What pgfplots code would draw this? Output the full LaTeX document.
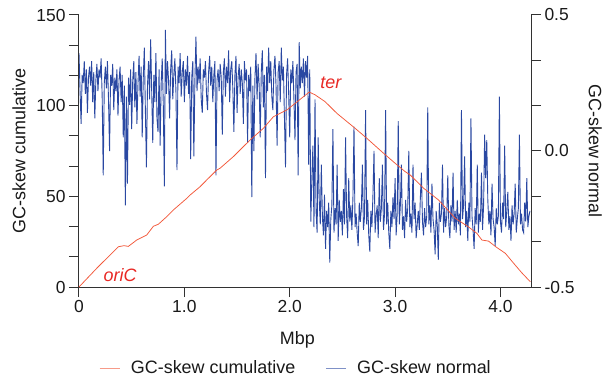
\documentclass[border=0pt]{standalone}
\usepackage{fontspec}
\setmainfont{Liberation Sans}
\usepackage{pgfplots}
\pgfplotsset{compat=1.18}
\definecolor{skewblue}{RGB}{42,72,162}
\definecolor{skewred}{RGB}{242,88,58}
\definecolor{labred}{RGB}{232,40,36}
\definecolor{axgray}{RGB}{50,50,50}
\definecolor{txtgray}{RGB}{25,25,25}
\begin{document}
\begin{tikzpicture}
\pgfplotsset{
  every axis/.append style={
    scale only axis, width=452bp, height=272bp,
    at={(0,0)}, anchor=south west,
    xmin=0, xmax=4.29,
    font=\fontsize{18}{21}\selectfont,
    every tick label/.append style={font=\fontsize{17.5}{20}\selectfont, txtgray},
    /pgf/number format/assume math mode=true,
    axis line style={axgray, line width=1bp},
    every tick/.append style={axgray, line width=1bp},
    tick align=outside,
    major tick length=10bp, minor tick length=10bp,
  }
}
% ---------- right axis: GC-skew normal ----------
\begin{axis}[
  axis x line=none,
  axis y line*=right,
  ymin=-0.5, ymax=0.5,
  ytick={-0.5,0,0.5},
  minor ytick={-0.3333,-0.1667,0.1667,0.3333},
  yticklabel style={/pgf/number format/fixed, /pgf/number format/fixed zerofill, /pgf/number format/precision=1},
  ylabel={GC-skew normal},
  ylabel style={at={(axis description cs:1.142,0.5)}, anchor=center, rotate=180, txtgray},
]
\addplot[skewblue, line width=0.9bp] coordinates {
(0.00,0.36) (0.01,0.22) (0.02,0.10) (0.03,0.28) (0.04,0.25) (0.05,0.33) (0.06,0.21) (0.07,0.30) (0.08,0.14) (0.09,0.27)
(0.10,0.31) (0.11,0.24) (0.12,0.33) (0.13,0.18) (0.14,0.29) (0.15,0.12) (0.16,0.26) (0.17,0.32) (0.18,0.22) (0.19,0.30)
(0.20,0.27) (0.21,0.34) (0.22,0.20) (0.23,-0.09) (0.24,0.25) (0.25,0.31) (0.26,0.23) (0.27,0.33) (0.28,0.19) (0.29,0.00)
(0.30,0.28) (0.31,0.24) (0.32,0.32) (0.33,0.15) (0.34,0.27) (0.35,0.22) (0.36,0.30) (0.37,0.13) (0.38,0.26) (0.39,0.31)
(0.40,0.18) (0.41,0.28) (0.42,0.05) (0.43,0.24) (0.44,-0.20) (0.45,0.20) (0.46,-0.12) (0.47,0.27) (0.48,0.17) (0.49,0.30)
(0.50,0.08) (0.51,0.26) (0.52,0.33) (0.53,0.16) (0.54,0.29) (0.55,0.10) (0.56,0.25) (0.57,0.35) (0.58,0.20) (0.59,0.31)
(0.60,0.05) (0.61,0.27) (0.62,0.38) (0.63,0.15) (0.64,-0.06) (0.65,0.24) (0.66,0.33) (0.67,0.19) (0.68,0.41) (0.69,0.22)
(0.70,0.03) (0.71,0.28) (0.72,0.18) (0.73,0.36) (0.74,0.12) (0.75,0.07) (0.76,0.30) (0.77,0.02) (0.78,0.25) (0.79,0.34)
(0.80,0.17) (0.81,-0.13) (0.82,0.445) (0.83,0.21) (0.84,0.33) (0.85,0.26) (0.86,0.12) (0.87,0.30) (0.88,0.37) (0.89,0.19)
(0.90,0.28) (0.91,0.34) (0.92,0.22) (0.93,-0.07) (0.94,0.31) (0.95,0.25) (0.96,0.36) (0.97,0.20) (0.98,0.29) (0.99,0.33)
(1.00,0.18) (1.01,0.30) (1.02,0.24) (1.03,0.35) (1.04,0.21) (1.05,0.29) (1.06,-0.03) (1.07,0.27) (1.08,0.33) (1.09,-0.02)
(1.10,0.26) (1.11,0.42) (1.12,0.22) (1.13,0.31) (1.14,0.25) (1.15,0.34) (1.16,0.19) (1.17,0.14) (1.18,0.30) (1.19,0.27)
(1.20,0.33) (1.21,0.21) (1.22,0.15) (1.23,0.29) (1.24,0.35) (1.25,0.24) (1.26,0.31) (1.27,0.18) (1.28,0.28) (1.29,0.33)
(1.30,-0.09) (1.31,0.26) (1.32,0.30) (1.33,0.22) (1.34,0.32) (1.35,0.27) (1.36,0.06) (1.37,0.29) (1.38,0.34) (1.39,0.20)
(1.40,0.31) (1.41,0.25) (1.42,0.37) (1.43,0.18) (1.44,0.30) (1.45,0.33) (1.46,0.23) (1.47,0.07) (1.48,0.28) (1.49,0.35)
(1.50,0.14) (1.51,0.27) (1.52,0.32) (1.53,0.21) (1.54,0.30) (1.55,0.25) (1.56,0.10) (1.57,0.33) (1.58,0.26) (1.59,0.30)
(1.60,0.03) (1.61,0.28) (1.62,0.22) (1.63,0.31) (1.64,-0.17) (1.65,0.24) (1.66,0.00) (1.67,0.27) (1.68,0.36) (1.69,0.19)
(1.70,0.32) (1.71,0.24) (1.72,0.05) (1.73,0.29) (1.74,0.37) (1.75,0.16) (1.76,0.28) (1.77,-0.10) (1.78,0.31) (1.79,0.22)
(1.80,0.38) (1.81,0.25) (1.82,0.33) (1.83,0.20) (1.84,0.15) (1.85,0.30) (1.86,0.35) (1.87,0.24) (1.88,0.02) (1.89,0.29)
(1.90,0.33) (1.91,0.18) (1.92,0.38) (1.93,0.26) (1.94,0.31) (1.95,0.12) (1.96,-0.06) (1.97,0.28) (1.98,0.34) (1.99,0.21)
(2.00,0.05) (2.01,0.30) (2.02,0.25) (2.03,0.33) (2.04,0.19) (2.05,0.04) (2.06,0.29) (2.07,0.32) (2.08,-0.09) (2.09,0.40)
(2.10,0.23) (2.11,0.31) (2.12,0.25) (2.13,0.34) (2.14,0.20) (2.15,0.33) (2.16,0.27) (2.17,0.35) (2.18,-0.05) (2.19,0.30)
(2.20,-0.26) (2.21,-0.10) (2.22,0.02) (2.23,-0.28) (2.24,0.19) (2.25,-0.22) (2.26,-0.30) (2.27,0.05) (2.28,-0.18) (2.29,-0.27)
(2.30,-0.05) (2.31,-0.24) (2.32,-0.31) (2.33,-0.16) (2.34,-0.36) (2.35,-0.22) (2.36,-0.28) (2.37,-0.19) (2.38,-0.41) (2.39,-0.25)
(2.40,-0.20) (2.41,0.08) (2.42,-0.30) (2.43,-0.21) (2.44,-0.27) (2.45,-0.05) (2.46,-0.33) (2.47,-0.18) (2.48,-0.26) (2.49,-0.22)
(2.50,-0.31) (2.51,-0.14) (2.52,-0.27) (2.53,0.05) (2.54,-0.24) (2.55,-0.32) (2.56,-0.10) (2.57,-0.26) (2.58,-0.20) (2.59,-0.29)
(2.60,-0.17) (2.61,0.09) (2.62,-0.28) (2.63,-0.23) (2.64,-0.30) (2.65,-0.35) (2.66,-0.19) (2.67,-0.26) (2.68,-0.21) (2.69,-0.05)
(2.70,-0.29) (2.71,-0.24) (2.72,0.15) (2.73,-0.27) (2.74,-0.18) (2.75,-0.31) (2.76,-0.37) (2.77,-0.22) (2.78,-0.28) (2.79,-0.16)
(2.80,0.00) (2.81,-0.30) (2.82,-0.24) (2.83,-0.20) (2.84,-0.32) (2.85,-0.10) (2.86,-0.26) (2.87,-0.21) (2.88,-0.05) (2.89,-0.29)
(2.90,-0.23) (2.91,0.15) (2.92,-0.27) (2.93,-0.19) (2.94,-0.30) (2.95,-0.36) (2.96,-0.22) (2.97,-0.28) (2.98,-0.17) (2.99,-0.25)
(3.00,-0.10) (3.01,-0.31) (3.02,-0.23) (3.03,0.11) (3.04,-0.27) (3.05,-0.20) (3.06,-0.05) (3.07,-0.29) (3.08,-0.24) (3.09,-0.32)
(3.10,-0.18) (3.11,-0.26) (3.12,-0.21) (3.13,0.00) (3.14,-0.28) (3.15,-0.23) (3.16,-0.30) (3.17,-0.05) (3.18,-0.25) (3.19,-0.19)
(3.20,-0.32) (3.21,-0.27) (3.22,-0.22) (3.23,-0.29) (3.24,-0.17) (3.25,-0.08) (3.26,-0.26) (3.27,-0.31) (3.28,-0.21) (3.29,-0.28)
(3.30,-0.24) (3.31,0.16) (3.32,-0.27) (3.33,-0.20) (3.34,-0.30) (3.35,-0.12) (3.36,-0.25) (3.37,-0.29) (3.38,-0.38) (3.39,-0.22)
(3.40,-0.27) (3.41,-0.40) (3.42,-0.19) (3.43,-0.26) (3.44,-0.23) (3.45,-0.05) (3.46,-0.30) (3.47,-0.21) (3.48,-0.28) (3.49,-0.24)
(3.50,-0.09) (3.51,-0.27) (3.52,-0.32) (3.53,-0.20) (3.54,-0.26) (3.55,-0.08) (3.56,-0.29) (3.57,-0.22) (3.58,-0.30) (3.59,-0.18)
(3.60,-0.27) (3.61,-0.23) (3.62,-0.31) (3.63,0.15) (3.64,-0.25) (3.65,-0.20) (3.66,-0.02) (3.67,-0.28) (3.68,-0.22) (3.69,-0.33)
(3.70,-0.19) (3.71,-0.26) (3.72,0.12) (3.73,-0.24) (3.74,-0.29) (3.75,-0.36) (3.76,-0.21) (3.77,-0.27) (3.78,-0.05) (3.79,-0.30)
(3.80,-0.23) (3.81,-0.26) (3.82,-0.08) (3.83,-0.29) (3.84,-0.20) (3.85,0.06) (3.86,-0.10) (3.87,0.04) (3.88,-0.18) (3.89,-0.27)
(3.90,-0.22) (3.91,-0.31) (3.92,-0.12) (3.93,-0.25) (3.94,-0.28) (3.95,-0.35) (3.96,-0.21) (3.97,-0.27) (3.98,-0.24) (3.99,0.20)
(4.00,-0.26) (4.01,-0.30) (4.02,-0.19) (4.03,-0.25) (4.04,0.02) (4.05,-0.28) (4.06,-0.22) (4.07,-0.15) (4.08,-0.29) (4.09,-0.24)
(4.10,-0.33) (4.11,-0.20) (4.12,-0.27) (4.13,-0.23) (4.14,-0.12) (4.15,-0.30) (4.16,-0.25) (4.17,-0.21) (4.18,0.06) (4.19,-0.27)
(4.20,-0.23) (4.21,-0.29) (4.22,-0.30) (4.23,-0.19) (4.24,-0.26) (4.25,-0.10) (4.26,-0.28) (4.27,-0.24) (4.28,-0.22)
};
\end{axis}
% ---------- left axis: GC-skew cumulative ----------
\begin{axis}[
  axis x line*=bottom,
  axis y line*=left,
  ymin=0, ymax=150,
  ytick={0,50,100,150},
  minor ytick={16.667,33.333,66.667,83.333,116.667,133.333},
  xtick={0,1,2,3,4},
  xticklabels={0,1.0,2.0,3.0,4.0},
  xlabel={Mbp},
  xlabel style={at={(axis description cs:0.483,-0.213)}, anchor=base, txtgray},
  ylabel={GC-skew cumulative},
  ylabel style={at={(axis description cs:-0.133,0.5)}, anchor=center, txtgray},
  legend columns=2,
  legend style={at={(axis description cs:0.48,-0.298)}, anchor=center, draw=none, fill=none,
    font=\fontsize{18}{21}\selectfont, text=txtgray,
    /tikz/every odd column/.append style={column sep=9bp},
    /tikz/every even column/.append style={column sep=28bp}},
  legend image code/.code={\draw[#1, opacity=0.6] (0bp,0bp) -- (20bp,0bp);},
]
\addplot[skewred, line width=0.75bp] coordinates {
(0,0) (0.168,10.3) (0.373,22.2) (0.427,22.8) (0.468,22.4) (0.548,25.9) (0.643,28.7) (0.706,33.5) (0.753,34.6)
(0.833,38.8) (0.896,42.5) (1.023,48.9) (1.054,50.7) (1.149,55.3) (1.212,59.0) (1.307,64.5) (1.339,65.5) (1.465,71.9)
(1.624,81.1) (1.750,87.5) (1.845,93.9) (1.972,97.6) (2.099,103.5) (2.185,107.5) (2.240,106.0) (2.336,102.2)
(2.447,95.8) (2.621,87.5) (2.732,82.0) (2.874,74.6) (3.001,68.2) (3.096,63.6) (3.143,61.8) (3.270,54.5)
(3.412,48.0) (3.571,37.9) (3.700,33.0) (3.776,29.6) (3.824,25.9) (3.887,25.3) (3.960,22.0) (4.046,18.6)
(4.125,13.1) (4.200,8.0) (4.283,2.9)
};
\addlegendentry{GC-skew cumulative}
\addlegendimage{skewblue, line width=0.9bp}
\addlegendentry{GC-skew normal}
\node[anchor=base west, labred, font=\fontsize{18}{21}\selectfont\itshape] at (axis cs:0.2,2.8) {oriC};
\node[anchor=base west, labred, font=\fontsize{18}{21}\selectfont\itshape] at (axis cs:2.257,109.7) {ter};
\end{axis}
\pgfresetboundingbox
\useasboundingbox (-79bp,-93bp) rectangle (525bp,287bp);
\end{tikzpicture}
\end{document}
